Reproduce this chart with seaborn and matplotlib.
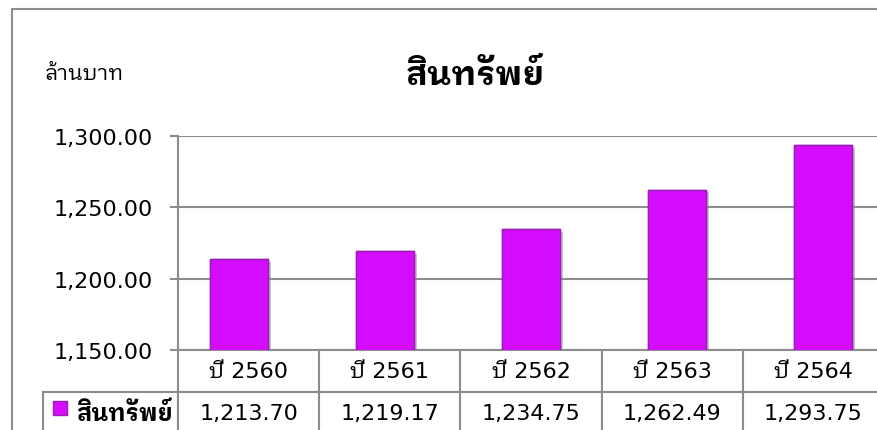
import matplotlib
matplotlib.use("Agg")
import matplotlib.pyplot as plt
import matplotlib.patheffects as pe
from matplotlib.patches import Rectangle
from matplotlib.ticker import StrMethodFormatter
import pandas as pd
import seaborn as sns

# data (million baht)
years = ["ปี 2560", "ปี 2561", "ปี 2562", "ปี 2563", "ปี 2564"]
assets = [1213.70, 1219.17, 1234.75, 1262.49, 1293.75]
series_name = "สินทรัพย์"
y_ticks = [1150, 1200, 1250, 1300]

BAR = "#d40cff"
BAR_EDGE = "#9a1cb4"
GRID = "#8c8c8c"
THAI = "IBM Plex Sans Thai Looped"

sns.set_style("white")
plt.rcParams["font.family"] = ["DejaVu Sans", THAI]
plt.rcParams["text.color"] = "black"
plt.rcParams["ytick.color"] = "black"

df = pd.DataFrame({"year": years, "assets": assets})

fig, ax = plt.subplots(figsize=(8.78, 4.31), dpi=100)
fig.subplots_adjust(left=0.2027, right=1.0068, top=0.6821, bottom=0.1856)

sns.barplot(data=df, x="year", y="assets", color=BAR, saturation=1, width=0.4,
            edgecolor=BAR_EDGE, linewidth=1, ax=ax, zorder=3)
# soft drop shadow like the office chart
for bar in ax.patches:
    bar.set_path_effects([pe.withSimplePatchShadow(offset=(2, -2),
                                                    shadow_rgbFace="#909090",
                                                    alpha=0.5),
                          pe.Normal()])

ax.set_ylim(y_ticks[0], y_ticks[-1])
ax.set_yticks(y_ticks)
ax.yaxis.set_major_formatter(StrMethodFormatter("{x:,.2f}"))
ax.set_xticklabels([])
ax.set_xlabel("")
ax.set_ylabel("")
ax.tick_params(axis="x", length=0)
ax.tick_params(axis="y", direction="out", length=6, width=1.5, color=GRID,
               pad=12, labelsize=16, labelcolor="black", left=True)
ax.grid(axis="y", color=GRID, linewidth=1.5)
ax.set_axisbelow(True)
for side in ["top", "right", "bottom"]:
    ax.spines[side].set_visible(False)
ax.spines["left"].set_color(GRID)
ax.spines["left"].set_linewidth(1.5)

# data table under the axis, first column holds the series name
tbl = ax.table(cellText=[[series_name] + [f"{v:,.2f}" for v in assets]],
               colLabels=[""] + years,
               colWidths=[135 / 841] + [141.2 / 841] * len(years),
               cellLoc="center",
               bbox=[-0.1912, -0.3925, 1.1912, 0.3925])
tbl.auto_set_font_size(False)
tbl.set_fontsize(16)
for cell in tbl.get_celld().values():
    cell.set_edgecolor(GRID)
    cell.set_linewidth(1.5)
    cell.get_text().set_color("black")
tbl[(0, 0)].set_visible(False)
label = tbl[(1, 0)].get_text()
label.set_ha("right")
label.set_fontsize(17)
label.set_fontweight("bold")
tbl[(1, 0)].PAD = 0.04

# legend key in the table
ax.scatter([-0.167], [-0.271], marker="s", s=115, color=BAR, edgecolor=BAR_EDGE,
           linewidth=1, transform=ax.transAxes, clip_on=False, zorder=5)

fig.text(0.542, 0.8028, series_name, fontsize=24.5, fontweight="bold",
         family=THAI, ha="center", va="baseline")
fig.text(0.0513, 0.8144, "ล้านบาท", fontsize=15.5, family=THAI,
         ha="left", va="baseline")

# chart frame
fig.add_artist(Rectangle((12 / 878, -0.1), 1.2, 0.9768 + 0.1, fill=False,
                         edgecolor=GRID, linewidth=1.5,
                         transform=fig.transFigure))

fig.savefig("out.png", dpi=100)
